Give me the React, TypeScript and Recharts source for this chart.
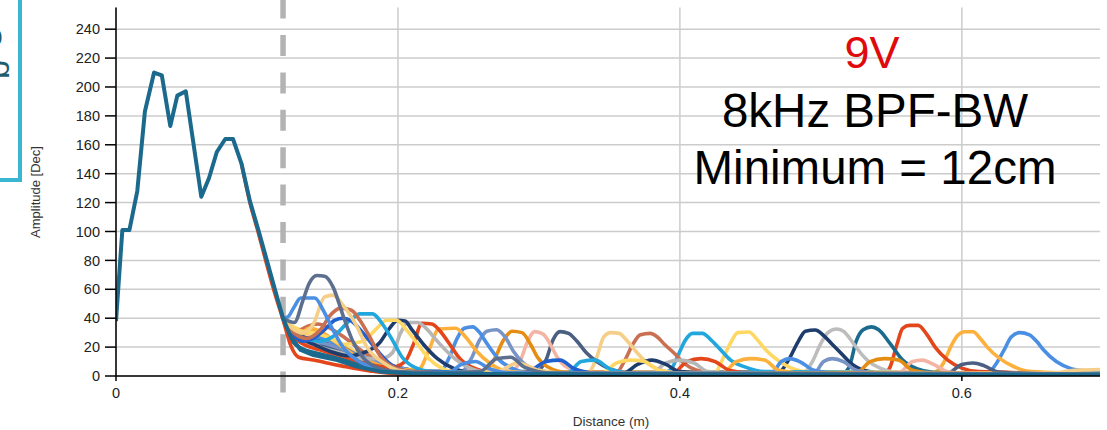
import React from 'react';
import { LineChart, Line, XAxis, YAxis, CartesianGrid, ReferenceLine } from 'recharts';

type P = [number, number];

// tick labels
const X_TICKS = [0, 0.2, 0.4, 0.6];
const Y_TICKS = [0, 20, 40, 60, 80, 100, 120, 140, 160, 180, 200, 220, 240];
const MIN_DISTANCE = 0.1185; // "Minimum = 12cm" marker

// common near-field ringing (distance m, amplitude)
const MAIN_TEAL: P[] = [
  [0, 38], [0.0045, 101], [0.0095, 101], [0.0151, 128], [0.0205, 183], [0.027, 210], [0.0325, 208],
  [0.0385, 173], [0.0435, 194], [0.0495, 197], [0.0605, 124], [0.066, 137], [0.0715, 155], [0.0775, 164],
  [0.083, 164], [0.089, 147], [0.095, 121], [0.101, 101], [0.107, 80], [0.113, 59], [0.1185, 40],
  [0.124, 27], [0.131, 18], [0.14, 14.5], [0.157, 11], [0.171, 6.5], [0.188, 3], [0.21, 1.8],
  [0.3, 1.3], [0.45, 1.1], [0.6, 1], [0.698, 1],
];
const MAIN_RED: P[] = [
  [0.089, 147], [0.095, 120], [0.101, 99], [0.107, 77], [0.113, 56], [0.1185, 39], [0.124, 21],
  [0.1295, 13], [0.14, 11], [0.16, 7], [0.18, 3.5], [0.2, 1.5], [0.3, 1], [0.698, 0.8],
];

// echoes from the moving target
const A_SLATE: P[] = [[0.1185, 40], [0.1265, 37], [0.1325, 52], [0.137, 64], [0.1425, 69.5], [0.148, 69], [0.154, 61.5], [0.161, 42], [0.168, 24], [0.175, 13], [0.185, 6], [0.2, 3], [0.23, 2], [0.258, 3], [0.27, 12], [0.28, 13], [0.29, 6], [0.31, 2], [0.45, 1.5], [0.698, 1]];
const B_BLUE: P[] = [[0.1185, 40], [0.122, 41], [0.1265, 48], [0.131, 54], [0.141, 54], [0.147, 45.5], [0.154, 31.7], [0.161, 20], [0.171, 11], [0.185, 5], [0.2, 2.5], [0.235, 2], [0.245, 8], [0.255, 10], [0.265, 5], [0.28, 2], [0.698, 1]];
const C_TAN: P[] = [[0.1185, 40], [0.125, 33], [0.132, 30], [0.14, 36], [0.148, 54.7], [0.154, 56], [0.161, 49], [0.171, 34], [0.178, 20], [0.19, 9], [0.2, 4], [0.22, 2], [0.27, 3], [0.285, 9], [0.3, 4], [0.32, 2], [0.698, 1]];
const D_RUST: P[] = [[0.1185, 40], [0.126, 30], [0.135, 26], [0.145, 32], [0.152, 42], [0.159, 47], [0.167, 45.5], [0.173, 38.6], [0.18, 27], [0.187, 14.5], [0.195, 7], [0.21, 3], [0.24, 2], [0.3, 2], [0.698, 1]];
const E_ROYAL: P[] = [[0.1185, 40], [0.125, 30], [0.132, 24], [0.14, 26], [0.148, 32], [0.155, 38.5], [0.161, 40], [0.167, 38], [0.175, 30], [0.185, 18], [0.195, 8], [0.21, 3], [0.29, 2], [0.305, 10], [0.315, 11], [0.325, 5], [0.34, 2], [0.698, 1]];
const F_SKY: P[] = [[0.1185, 40], [0.125, 32], [0.133, 26], [0.145, 24], [0.155, 28], [0.166, 38.6], [0.173, 43], [0.182, 43], [0.189, 36], [0.196, 25], [0.203, 13], [0.212, 6], [0.225, 3], [0.32, 2], [0.33, 10], [0.34, 11], [0.35, 5], [0.365, 2], [0.698, 1]];
const G_YELLOW: P[] = [[0.1185, 40], [0.125, 34], [0.132, 31], [0.14, 30], [0.15, 27], [0.162, 22], [0.175, 24], [0.185, 33], [0.192, 38.6], [0.199, 38.6], [0.206, 32], [0.214, 22], [0.222, 12], [0.232, 5], [0.245, 2], [0.345, 2], [0.355, 9], [0.365, 11], [0.375, 10], [0.385, 4], [0.4, 2], [0.698, 1]];
const H_NAVY: P[] = [[0.1185, 40], [0.124, 33], [0.13, 27], [0.14, 22], [0.152, 17], [0.165, 14], [0.178, 17], [0.187, 23], [0.194, 33], [0.2, 38.6], [0.205, 38], [0.21, 32], [0.218, 22], [0.228, 12], [0.24, 5], [0.255, 2], [0.36, 2], [0.37, 8], [0.38, 11], [0.39, 8], [0.4, 3], [0.42, 2], [0.698, 1]];
const I_GRAY: P[] = [[0.1185, 40], [0.126, 29], [0.135, 25], [0.145, 20], [0.16, 16], [0.175, 12], [0.188, 12], [0.196, 16], [0.202, 30], [0.207, 37], [0.214, 37], [0.22, 33], [0.228, 24], [0.238, 14], [0.25, 6], [0.265, 2.5], [0.38, 2], [0.39, 9], [0.4, 11], [0.41, 9], [0.42, 3], [0.44, 2], [0.698, 1]];
const J_RED: P[] = [[0.1185, 40], [0.125, 28], [0.133, 22], [0.145, 18], [0.16, 14], [0.18, 8], [0.195, 6], [0.205, 10], [0.211, 22], [0.217, 36.5], [0.224, 36], [0.23, 31], [0.236, 23], [0.244, 12], [0.255, 5], [0.27, 2], [0.395, 2], [0.405, 10], [0.415, 12], [0.425, 10], [0.435, 4], [0.45, 2], [0.698, 1]];
const K_ORANGE: P[] = [[0.1185, 40], [0.124, 31], [0.13, 29], [0.137, 33], [0.145, 31], [0.155, 24], [0.168, 15], [0.185, 8], [0.2, 4], [0.215, 5], [0.222, 18], [0.229, 32.5], [0.241, 33], [0.248, 27], [0.256, 17], [0.265, 9], [0.278, 3], [0.3, 2], [0.43, 2], [0.44, 10], [0.45, 12], [0.46, 11], [0.47, 4], [0.49, 2], [0.698, 1]];
const L_BLUE: P[] = [[0.1185, 40], [0.126, 27], [0.133, 24], [0.14, 27], [0.148, 26], [0.16, 20], [0.175, 12], [0.19, 6], [0.21, 3], [0.23, 3], [0.236, 12], [0.242, 26], [0.247, 33], [0.253, 34], [0.258, 30], [0.263, 22.6], [0.272, 11], [0.282, 5], [0.295, 2], [0.465, 2], [0.472, 10], [0.478, 12], [0.485, 10], [0.495, 4], [0.51, 2], [0.698, 1]];
const M_STEEL: P[] = [[0.1185, 40], [0.125, 30], [0.135, 25], [0.15, 22], [0.165, 17], [0.18, 12], [0.2, 6], [0.22, 3], [0.245, 3], [0.252, 12], [0.258, 25], [0.263, 31], [0.27, 32], [0.276, 27], [0.282, 17], [0.289, 9], [0.3, 4], [0.315, 2], [0.495, 2], [0.502, 10], [0.508, 12], [0.516, 10], [0.525, 4], [0.54, 2], [0.698, 1]];
const N_DORANGE: P[] = [[0.1185, 40], [0.125, 33], [0.132, 30], [0.14, 32], [0.15, 27], [0.163, 19], [0.178, 11], [0.195, 6], [0.215, 3], [0.26, 3], [0.268, 11], [0.275, 25], [0.281, 31], [0.288, 30], [0.294, 22], [0.299, 13], [0.306, 6.4], [0.32, 2.5], [0.525, 2], [0.535, 10], [0.545, 12], [0.555, 11], [0.565, 4], [0.58, 2], [0.698, 1]];
const O_SALMON: P[] = [[0.1185, 40], [0.126, 28], [0.134, 23], [0.145, 19], [0.16, 15], [0.18, 9], [0.2, 5], [0.23, 3], [0.28, 3], [0.287, 11], [0.292, 24], [0.297, 30.7], [0.303, 29], [0.308, 22], [0.313, 13], [0.32, 6], [0.335, 2.5], [0.555, 2], [0.565, 10], [0.572, 11], [0.58, 8], [0.59, 3], [0.6, 2], [0.698, 1]];
const P_SLATE: P[] = [[0.1185, 40], [0.125, 31], [0.133, 27], [0.143, 23], [0.157, 19], [0.175, 13], [0.195, 7], [0.22, 3], [0.298, 3], [0.305, 11], [0.31, 25], [0.315, 30.7], [0.321, 29.5], [0.327, 24], [0.334, 15.7], [0.341, 10], [0.35, 5], [0.365, 2], [0.59, 2], [0.6, 8], [0.608, 9], [0.616, 7], [0.625, 3], [0.64, 2], [0.698, 1]];
const Q_TAN: P[] = [[0.1185, 40], [0.124, 34], [0.13, 30], [0.14, 28], [0.15, 25], [0.162, 20], [0.175, 13], [0.19, 7], [0.21, 4], [0.24, 2.5], [0.335, 2.5], [0.341, 13], [0.346, 27], [0.351, 30], [0.357, 29.5], [0.362, 25], [0.37, 15.7], [0.377, 8.8], [0.387, 4], [0.4, 2], [0.665, 2], [0.68, 4], [0.698, 4.5]];
const R_RUST: P[] = [[0.1185, 40], [0.126, 30], [0.135, 34], [0.143, 36], [0.152, 33], [0.163, 26], [0.175, 17], [0.19, 9], [0.21, 4], [0.24, 2.5], [0.355, 2.5], [0.361, 11], [0.367, 22.6], [0.372, 28.5], [0.379, 29.5], [0.384, 27], [0.389, 22], [0.396, 15.7], [0.403, 8.8], [0.412, 4], [0.425, 2], [0.698, 1.5]];
const S_SKY: P[] = [[0.1185, 40], [0.125, 29], [0.133, 24], [0.142, 21], [0.155, 18], [0.17, 12], [0.19, 6], [0.215, 3], [0.25, 2], [0.388, 2], [0.394, 5], [0.399, 15], [0.404, 25], [0.409, 29.5], [0.416, 29.5], [0.422, 25], [0.429, 18], [0.436, 11], [0.447, 6], [0.46, 3], [0.698, 1.2]];
const T_YELLOW: P[] = [[0.1185, 40], [0.124, 35], [0.131, 32], [0.14, 30], [0.15, 27], [0.162, 21], [0.175, 14], [0.19, 8], [0.21, 4], [0.24, 2.5], [0.425, 2.5], [0.43, 11], [0.436, 23], [0.441, 30], [0.449, 30.5], [0.455, 25], [0.461, 18], [0.47, 10.5], [0.478, 6], [0.49, 3], [0.698, 1.5]];
const U_NAVY: P[] = [[0.1185, 40], [0.125, 32], [0.133, 28], [0.143, 25], [0.155, 20], [0.17, 14], [0.188, 8], [0.21, 4], [0.24, 2.5], [0.47, 2.5], [0.477, 11], [0.484, 24], [0.489, 31], [0.496, 31.8], [0.502, 28], [0.508, 22], [0.515, 15], [0.521, 9], [0.53, 4], [0.545, 2], [0.698, 1]];
const V_GRAY: P[] = [[0.1185, 40], [0.126, 29], [0.135, 25], [0.145, 23], [0.158, 19], [0.172, 13], [0.19, 7], [0.21, 4], [0.24, 2.5], [0.488, 2.5], [0.494, 10], [0.5, 22.6], [0.505, 30], [0.511, 32.5], [0.516, 31], [0.523, 22.6], [0.529, 15], [0.534, 10], [0.542, 5.5], [0.555, 2.5], [0.698, 1]];
const W_TEAL: P[] = [[0.1185, 40], [0.125, 24], [0.132, 19], [0.142, 16], [0.155, 13], [0.17, 9], [0.19, 5], [0.21, 3], [0.24, 2], [0.515, 2], [0.52, 6], [0.525, 24], [0.53, 32], [0.536, 34], [0.541, 32], [0.549, 22.6], [0.558, 11], [0.568, 5], [0.58, 2.5], [0.698, 1]];
const X_RED: P[] = [[0.1185, 40], [0.124, 30], [0.132, 26], [0.142, 22], [0.155, 17], [0.17, 12], [0.19, 6], [0.21, 3], [0.24, 2], [0.545, 2], [0.549, 6], [0.554, 22], [0.558, 33], [0.563, 35], [0.569, 35], [0.575, 29], [0.581, 20], [0.59, 11], [0.6, 5.5], [0.612, 3], [0.698, 1.5]];
const Y_ORANGE: P[] = [[0.1185, 40], [0.124, 31], [0.13, 27], [0.137, 30], [0.145, 29], [0.155, 23], [0.168, 15], [0.185, 8], [0.205, 4], [0.24, 2.5], [0.58, 2.5], [0.587, 9], [0.592, 20], [0.597, 28], [0.602, 30.6], [0.608, 30.6], [0.613, 26], [0.618, 20], [0.627, 12], [0.637, 6.4], [0.65, 3], [0.698, 1.5]];
const Z_BLUE: P[] = [[0.1185, 40], [0.126, 27], [0.134, 23], [0.143, 25], [0.153, 23], [0.165, 17], [0.18, 10], [0.2, 5], [0.225, 3], [0.26, 2], [0.618, 2], [0.624, 8], [0.63, 18], [0.635, 27], [0.641, 30], [0.648, 28.5], [0.653, 24], [0.658, 18], [0.667, 10], [0.677, 5.3], [0.688, 3.5], [0.698, 3]];

const SERIES: { key: string; color: string; points: P[] }[] = [
  { key: 'z', color: '#4a8fe4', points: Z_BLUE },
  { key: 'y', color: '#fdb13c', points: Y_ORANGE },
  { key: 'x', color: '#e2461a', points: X_RED },
  { key: 'w', color: '#1b6b8e', points: W_TEAL },
  { key: 'v', color: '#bdbdbd', points: V_GRAY },
  { key: 'u', color: '#1e3d6c', points: U_NAVY },
  { key: 't', color: '#ffd863', points: T_YELLOW },
  { key: 's', color: '#22a6de', points: S_SKY },
  { key: 'r', color: '#c96f52', points: R_RUST },
  { key: 'q', color: '#f5cf88', points: Q_TAN },
  { key: 'p', color: '#4a5f82', points: P_SLATE },
  { key: 'o', color: '#f3b4a4', points: O_SALMON },
  { key: 'n', color: '#e58d12', points: N_DORANGE },
  { key: 'm', color: '#7893c6', points: M_STEEL },
  { key: 'l', color: '#4a8fe4', points: L_BLUE },
  { key: 'k', color: '#fdb13c', points: K_ORANGE },
  { key: 'j', color: '#e2461a', points: J_RED },
  { key: 'i', color: '#b6b6b6', points: I_GRAY },
  { key: 'h', color: '#1e3d6c', points: H_NAVY },
  { key: 'g', color: '#ffd863', points: G_YELLOW },
  { key: 'f', color: '#22a6de', points: F_SKY },
  { key: 'e', color: '#1f5fd0', points: E_ROYAL },
  { key: 'd', color: '#c96f52', points: D_RUST },
  { key: 'c', color: '#f5cf88', points: C_TAN },
  { key: 'b', color: '#4a8fe4', points: B_BLUE },
  { key: 'a', color: '#5d6f8f', points: A_SLATE },
  { key: 'mainRed', color: '#e2461a', points: MAIN_RED },
];

const toData = (pts: P[]) => pts.map(([x, y]) => ({ x, y }));

const FONT = '"Liberation Sans", Arial, sans-serif';

export default function App() {
  return (
    <div style={{ position: 'absolute', left: 0, top: 0, width: 1107, height: 430, background: '#fff', overflow: 'hidden', fontFamily: FONT }}>
      <LineChart width={1107} height={430} margin={{ top: 7.5, right: 7, left: 0, bottom: 24 }}>
        <CartesianGrid stroke="#cccccc" strokeWidth={1.5} horizontalValues={Y_TICKS} verticalValues={X_TICKS} />
        <XAxis
          type="number"
          dataKey="x"
          domain={[0, 0.698]}
          ticks={X_TICKS}
          allowDataOverflow
          height={30}
          tickSize={5}
          tickMargin={7}
          interval={0}
          tickFormatter={(v: number) => (v === 0 ? '0' : v.toFixed(1))}
          axisLine={{ stroke: '#000', strokeWidth: 1.5 }}
          tickLine={{ stroke: '#000', strokeWidth: 1.5 }}
          tick={{ fill: '#222', fontSize: 14.5, fontFamily: FONT }}
        />
        <YAxis
          type="number"
          domain={[0, 255]}
          ticks={Y_TICKS}
          allowDataOverflow
          width={116}
          tickSize={11}
          tickMargin={5}
          interval={0}
          axisLine={{ stroke: '#000', strokeWidth: 1.5 }}
          tickLine={{ stroke: '#000', strokeWidth: 1.5 }}
          tick={{ fill: '#222', fontSize: 14.5, fontFamily: FONT }}
        />
        <ReferenceLine
          x={MIN_DISTANCE}
          ifOverflow="visible"
          shape={(p: any) => (
            <line x1={p.x1} x2={p.x2} y1={-2.4} y2={393} stroke="#b3b3b3" strokeWidth={5.5} strokeDasharray="21 16.4" />
          )}
        />
        {SERIES.map((s) => (
          <Line
            key={s.key}
            data={toData(s.points)}
            dataKey="y"
            type="monotone"
            stroke={s.color}
            strokeWidth={3.6}
            dot={false}
            activeDot={false}
            isAnimationActive={false}
            strokeLinejoin="round"
          />
        ))}
        <Line
          data={toData(MAIN_TEAL)}
          dataKey="y"
          type="linear"
          stroke="#1b6a8d"
          strokeWidth={4}
          dot={false}
          activeDot={false}
          isAnimationActive={false}
          strokeLinejoin="round"
        />
      </LineChart>
      <div style={{ position: 'absolute', left: -10, top: -10, width: 32, height: 192, border: '4px solid #3ab5d2', boxSizing: 'border-box' }} />
      <svg width={1107} height={430} style={{ position: 'absolute', left: 0, top: 0, pointerEvents: 'none' }}>
        <g fill="#1f5c70" fontFamily={FONT}>
          <text x={-15} y={46} fontSize={32}>o</text>
          <text transform="translate(-9,60) rotate(90)" fontSize={34}>g</text>
          <text x={-16} y={150} fontSize={30}>o</text>
        </g>
        <text transform="translate(35,192) rotate(-90)" textAnchor="middle" dy="0.35em" fontSize={13} fill="#333" fontFamily={FONT}>Amplitude [Dec]</text>
        <text x={611} y={425.5} textAnchor="middle" fontSize={13.5} fill="#333" fontFamily={FONT}>Distance (m)</text>
        <text x={872} y={68} textAnchor="middle" fontSize={45} fill="#e00a0a" fontFamily={FONT}>9V</text>
        <text x={875} y={126.5} textAnchor="middle" fontSize={47.5} fill="#000" fontFamily={FONT}>8kHz BPF-BW</text>
        <text x={875} y={184} textAnchor="middle" fontSize={47.5} fill="#000" fontFamily={FONT}>Minimum = 12cm</text>
      </svg>
    </div>
  );
}
